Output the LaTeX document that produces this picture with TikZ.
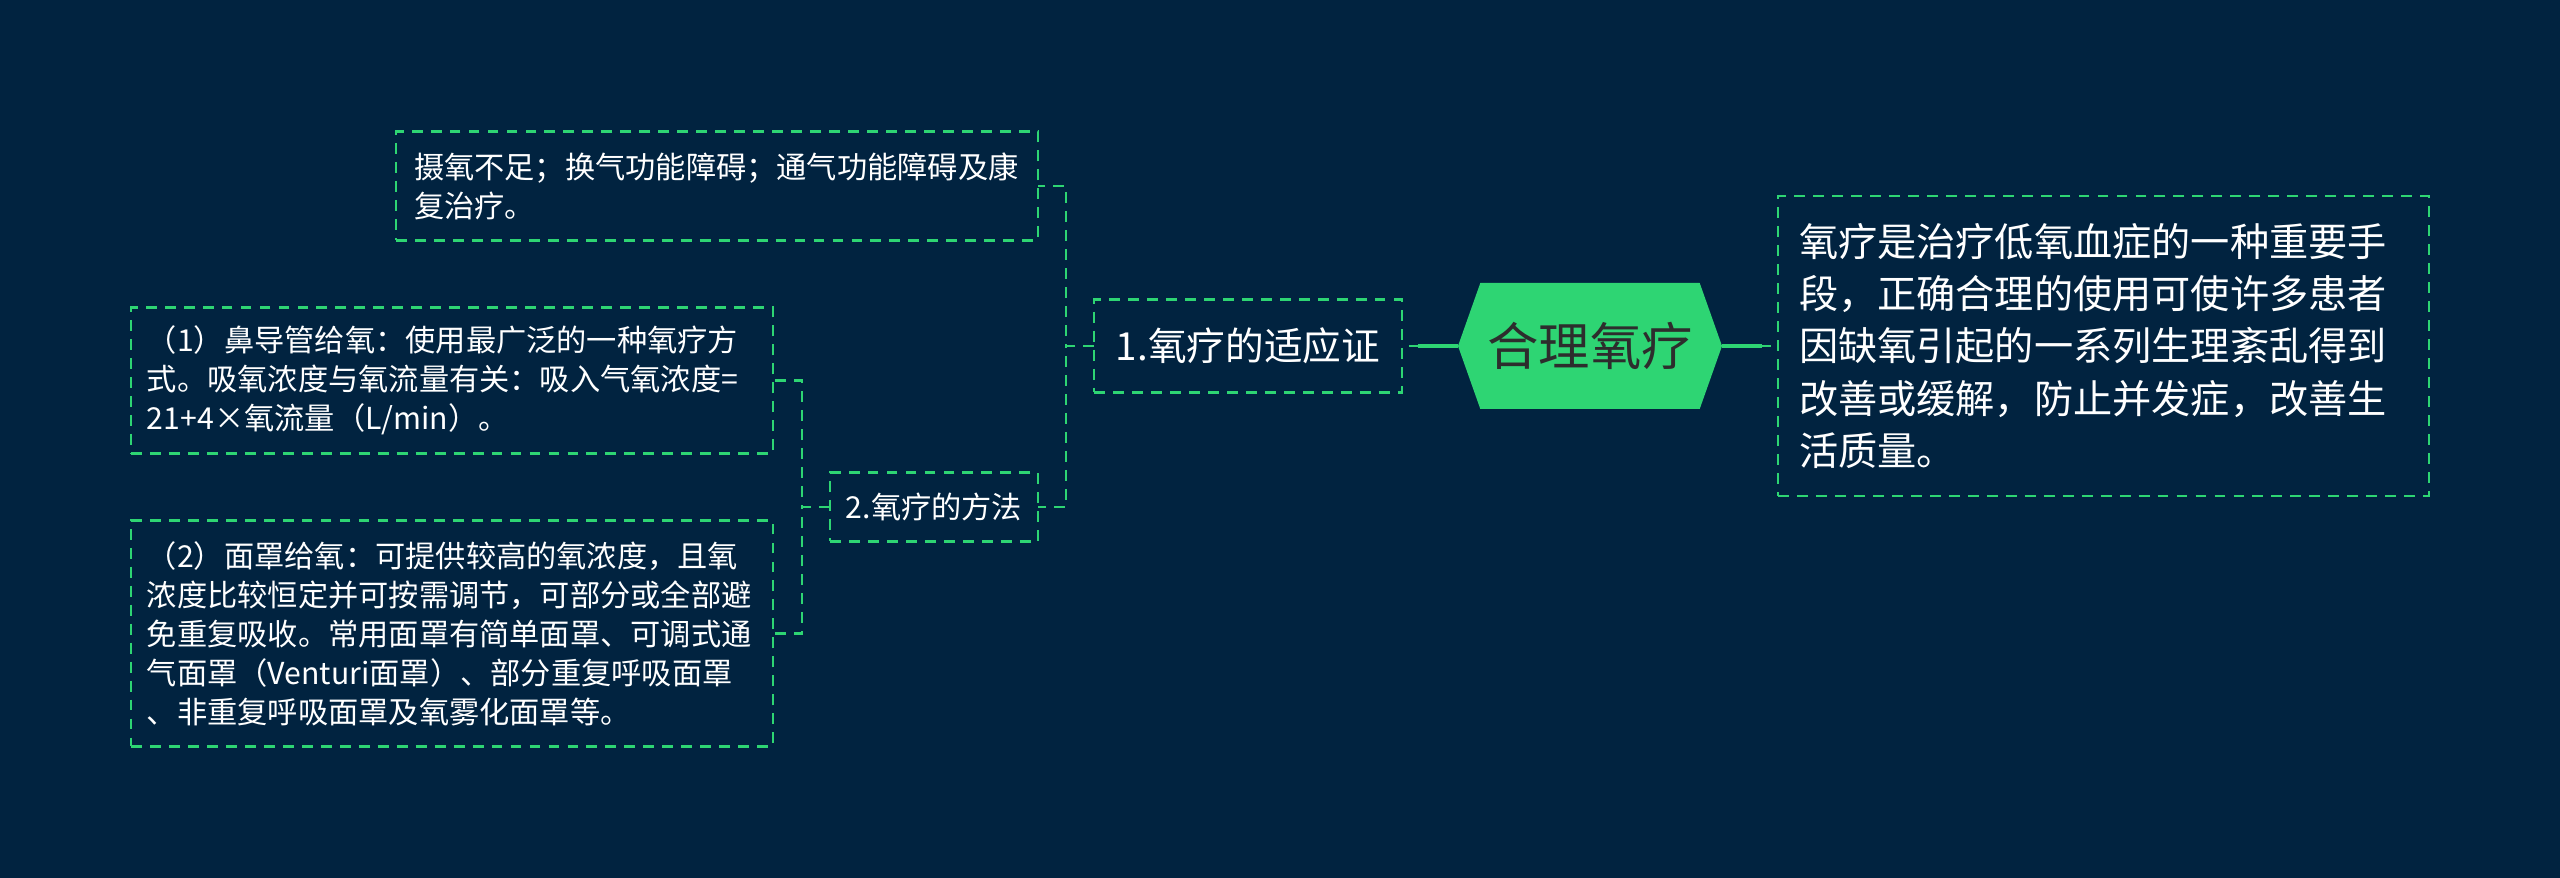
\documentclass[tikz,border=0pt]{standalone}
\usepackage{fontspec}
\setmainfont{Noto Sans CJK SC}
\usetikzlibrary{shapes.symbols, positioning}
\definecolor{bgnavy}{RGB}{1,35,64}
\definecolor{mintgreen}{RGB}{46,213,115}
\definecolor{darkink}{RGB}{45,45,45}

\begin{document}
\begin{tikzpicture}[
    leaf/.style={rectangle, draw=mintgreen, line width=0.6pt, outer sep=0pt,
        dash pattern=on 3.1pt off 2.3pt, text=white, align=left,
        font=\fontsize{8.6pt}{11.1pt}\selectfont},
    hub/.style={signal, signal to=west and east, signal pointer angle=141,
        fill=mintgreen, text=darkink, inner sep=0pt, outer sep=0pt,
        minimum width=2.64cm, minimum height=1.26cm,
        font=\fontsize{14.6pt}{17pt}\selectfont},
    link/.style={draw=mintgreen, line width=0.6pt, dash pattern=on 3.1pt off 2.3pt},
    trunk/.style={draw=mintgreen, line width=1.2pt},
    node distance=0.56cm]
\useasboundingbox (0,0) rectangle (25.6,8.78);
\fill[bgnavy] (0,0) rectangle (25.6,8.78);
% centre and first level
\node[hub] (hex) at (15.90,5.32) {合理氧疗};
\node[leaf, left=of hex, align=center, minimum width=3.08cm, minimum height=0.93cm,
    font=\fontsize{11pt}{13pt}\selectfont] (ind) {1.氧疗的适应证};
\node[leaf, right=of hex, text width=6.09cm, inner xsep=0.21cm, minimum height=3.00cm,
    font=\fontsize{11.15pt}{14.9pt}\selectfont] (def)
    {氧疗是治疗低氧血症的一种重要手\\段，正确合理的使用可使许多患者\\因缺氧引起的一系列生理紊乱得到\\改善或缓解，防止并发症，改善生\\活质量。};
% second level
\node[leaf, above left=0.59cm and 0.56cm of ind, text width=6.06cm, inner xsep=0.18cm,
    minimum height=1.09cm] (sym)
    {摄氧不足；换气功能障碍；通气功能障碍及康\\复治疗。};
\node[leaf, below left=0.80cm and 0.56cm of ind, align=center, minimum width=2.08cm,
    minimum height=0.69cm] (meth) {2.氧疗的方法};
% third level
\node[leaf, above left=0.19cm and 0.57cm of meth, text width=6.10cm, inner xsep=0.16cm,
    minimum height=1.46cm] (way1)
    {（1）鼻导管给氧：使用最广泛的一种氧疗方\\式。吸氧浓度与氧流量有关：吸入气氧浓度=\\21+4×氧流量（L/min）。};
\node[leaf, below=0.67cm of way1, text width=6.10cm, inner xsep=0.16cm,
    minimum height=2.26cm] (way2)
    {（2）面罩给氧：可提供较高的氧浓度，且氧\\浓度比较恒定并可按需调节，可部分或全部避\\免重复吸收。常用面罩有简单面罩、可调式通\\气面罩（Venturi面罩）、部分重复呼吸面罩\\、非重复呼吸面罩及氧雾化面罩等。};
% connectors
\draw[trunk, shorten >=0.16cm] (hex.west) -- (ind.east);
\draw[link] (hex.west) -- (ind.east);
\draw[trunk, shorten >=0.16cm] (hex.east) -- (def.west);
\draw[link] (hex.east) -- (def.west);
\draw[link] (ind.west) -- ++(-0.28,0) |- (sym.east);
\draw[link] (ind.west) -- ++(-0.28,0) |- (meth.east);
\draw[link] (meth.west) -- ++(-0.28,0) |- (way1.east);
\draw[link] (meth.west) -- ++(-0.28,0) |- (way2.east);
\end{tikzpicture}
\end{document}
